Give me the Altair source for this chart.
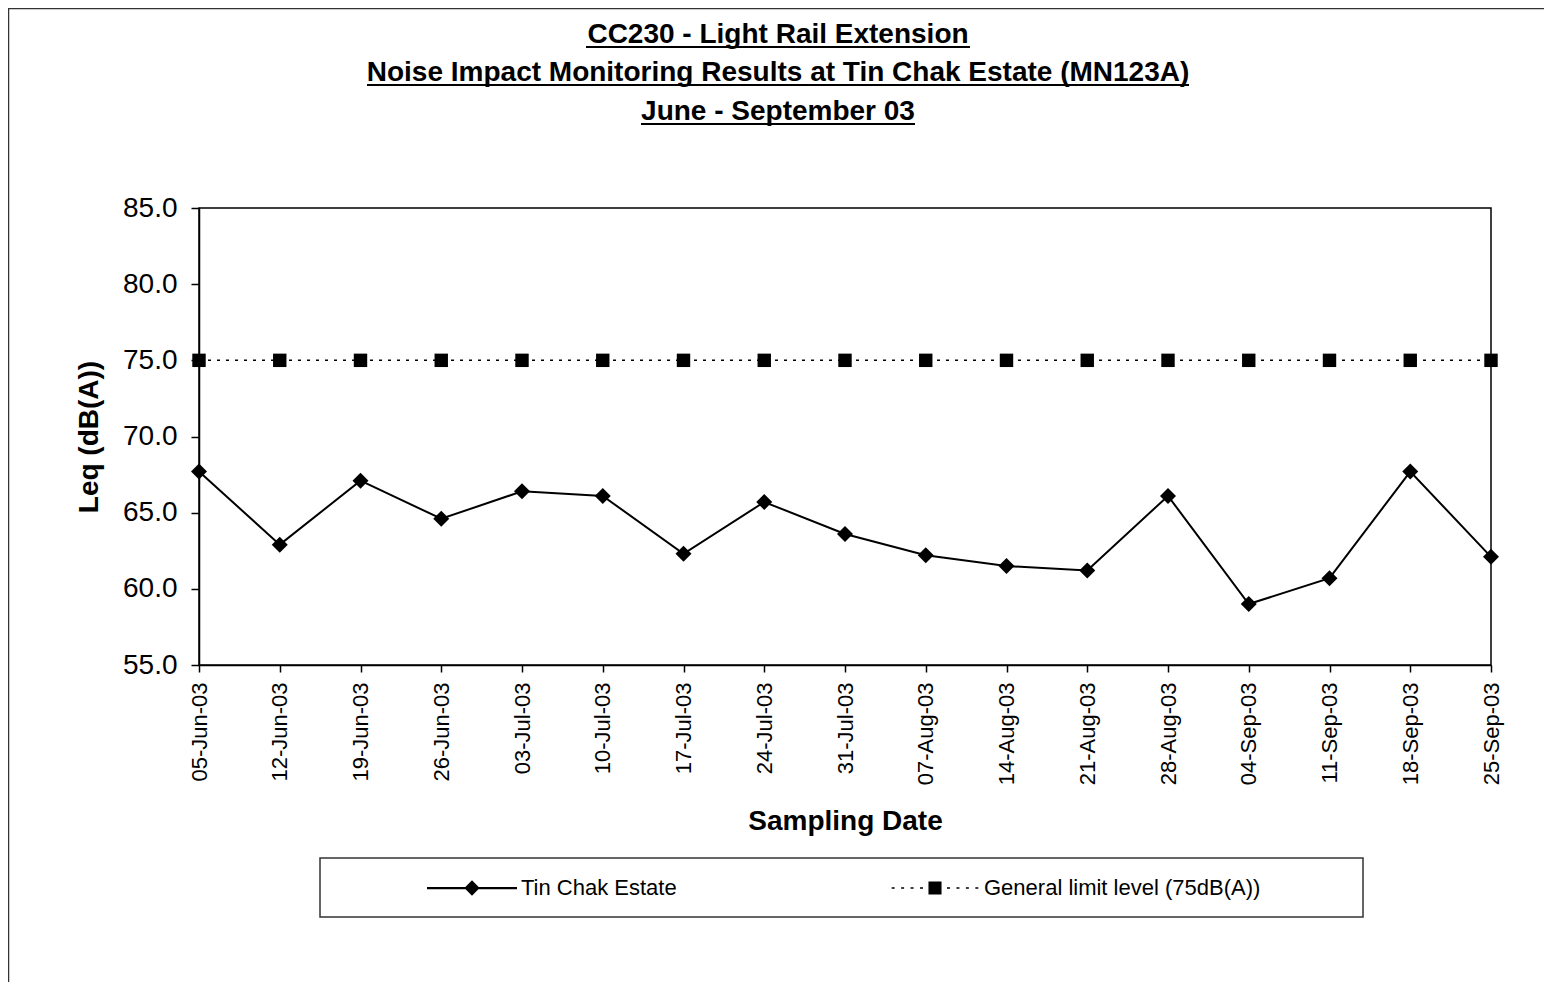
import altair as alt
import pandas as pd

# ---- data ----
dates = ["05-Jun-03", "12-Jun-03", "19-Jun-03", "26-Jun-03", "03-Jul-03", "10-Jul-03",
         "17-Jul-03", "24-Jul-03", "31-Jul-03", "07-Aug-03", "14-Aug-03", "21-Aug-03",
         "28-Aug-03", "04-Sep-03", "11-Sep-03", "18-Sep-03", "25-Sep-03"]
tin_chak = [67.7, 62.9, 67.1, 64.6, 66.4, 66.1, 62.3, 65.7, 63.6, 62.2, 61.5, 61.2,
            66.1, 59.0, 60.7, 67.7, 62.1]
limit_level = [75.0, 75.0, 75.0, 75.0, 75.0, 75.0, 75.0, 75.0, 75.0, 75.0, 75.0, 75.0,
               75.0, 75.0, 75.0, 75.0, 75.0]
series_names = ["Tin Chak Estate", "General limit level (75dB(A))"]
y_ticks = [55, 60, 65, 70, 75, 80, 85]
title_lines = ["CC230 - Light Rail Extension",
               "Noise Impact Monitoring Results at Tin Chak Estate (MN123A)",
               "June - September 03"]

FONT = "Liberation Sans"

df_tin = pd.DataFrame({"date": dates, "value": tin_chak})
df_lim = pd.DataFrame({"date": dates, "value": limit_level})
df_leg = pd.DataFrame({"series": series_names})
one = pd.DataFrame({"k": [0]})

x_enc = alt.X("date:O", sort=dates,
              scale=alt.Scale(type="point", padding=0),
              axis=alt.Axis(title="Sampling Date", labelAngle=270, labelFontSize=22,
                            labelFont=FONT, labelColor="black", tickSize=7,
                            tickColor="black", tickWidth=1.5, domainColor="black",
                            domainWidth=1.5, labelPadding=10, labelOverlap=False,
                            titleFontSize=28, titleFont=FONT, titleFontWeight="bold",
                            titleColor="black", titlePadding=23))
y_enc = alt.Y("value:Q",
              scale=alt.Scale(domain=[55, 85], nice=False, zero=False),
              axis=alt.Axis(title="Leq (dB(A))", values=y_ticks, format=".1f",
                            labelFontSize=28, labelFont=FONT, labelColor="black",
                            tickSize=8, tickColor="black", tickWidth=1.5,
                            domainColor="black", domainWidth=1.5, labelPadding=14,
                            grid=False, titleFontSize=28, titleFont=FONT,
                            titleFontWeight="bold", titleColor="black",
                            titlePadding=19))

tin_line = alt.Chart(df_tin).mark_line(color="black", strokeWidth=2).encode(x=x_enc, y=y_enc)
tin_pts = alt.Chart(df_tin).mark_point(shape="diamond", filled=True, size=256,
                                       color="black", opacity=1).encode(x=x_enc, y=y_enc)
lim_line = alt.Chart(df_lim).mark_line(color="black", strokeWidth=1.5,
                                       strokeDash=[3, 6]).encode(x=x_enc, y=y_enc)
lim_pts = alt.Chart(df_lim).mark_point(shape="square", filled=True, size=180,
                                       color="black", opacity=1).encode(x=x_enc, y=y_enc)

# legend symbols (unit square -1..1)
path_tin = "M-1,-0.025H1V0.025H-1Z M0,-0.17L0.17,0L0,0.17L-0.17,0Z"
dots = []
for c in [-0.93, -0.72, -0.51, -0.30, 0.30, 0.51, 0.72, 0.93]:
    dots.append(f"M{c-0.033:.3f},-0.017H{c+0.033:.3f}V0.017H{c-0.033:.3f}Z")
path_lim = " ".join(dots) + " M-0.145,-0.145H0.145V0.145H-0.145Z"

legend_layer = alt.Chart(df_leg).transform_filter("false").mark_point(
    filled=True, color="black", opacity=1, size=8100
).encode(
    shape=alt.Shape("series:N",
                    scale=alt.Scale(domain=series_names, range=[path_tin, path_lim]),
                    legend=alt.Legend(title=None, orient="none", legendX=228, legendY=635,
                                      direction="horizontal", columns=2, columnPadding=213,
                                      labelFontSize=22, labelFont=FONT, labelColor="black",
                                      labelOffset=4, labelLimit=500, symbolSize=8100,
                                      symbolStrokeWidth=0, symbolFillColor="black",
                                      padding=0, rowPadding=0))
)

# title lines (bold, underlined)
title_baselines = [-165, -127, -88]
underline_spans = [(387, 771), (168, 990), (442, 716)]
title_layers = []
for line, yb, (u0, u1) in zip(title_lines, title_baselines, underline_spans):
    title_layers.append(
        alt.Chart(one).mark_text(font=FONT, fontSize=28, fontWeight="bold", color="black",
                                 align="center", baseline="alphabetic").encode(
            x=alt.value(579), y=alt.value(yb), text=alt.value(line)))
    title_layers.append(
        alt.Chart(one).mark_rule(color="black", strokeWidth=2).encode(
            x=alt.value(u0), x2=alt.value(u1), y=alt.value(yb + 4)))

# decorations: outer frame, legend box
frame = alt.Chart(one).mark_rect(fill=None, stroke="#333333", strokeWidth=1.5).encode(
    x=alt.value(-190.5), x2=alt.value(1400), y=alt.value(-199.5), y2=alt.value(900))
legend_box = alt.Chart(one).mark_rect(fill=None, stroke="#333333", strokeWidth=1.5).encode(
    x=alt.value(121), x2=alt.value(1164), y=alt.value(650), y2=alt.value(709))

chart = alt.layer(
    lim_line, lim_pts, tin_line, tin_pts, legend_layer, frame, legend_box, *title_layers
).properties(
    width=1292, height=457,
    padding={"left": 191, "top": 200, "right": 53, "bottom": 317},
    autosize=alt.AutoSizeParams(type="none"),
).configure(font=FONT).configure_view(stroke="black", strokeWidth=1.5)

chart.save("out.html", embed_options={"renderer": "svg", "actions": False})
